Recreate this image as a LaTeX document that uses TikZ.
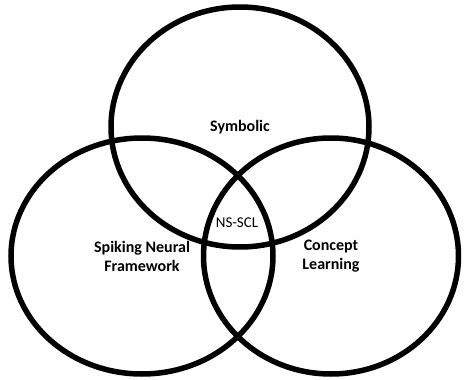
\documentclass[tikz,border=0pt]{standalone}
\usepackage{fontspec}
\setmainfont{Carlito}
\usepackage{tikz}
\usetikzlibrary{shapes.geometric}
\tikzstyle{set} = [ ellipse, draw = black, line width = 5.5pt, inner sep = 0pt, %
                    align = center, font = \fontsize{16}{19}\selectfont\bfseries ]
\tikzstyle{core} = [ font = \fontsize{15}{16}\selectfont ]

\begin{document}
\begin{tikzpicture}[x=1pt,y=1pt]
      \useasboundingbox (0,0) rectangle (464,-380);
      % Sets
      \node (symbolic) [set,minimum width=258pt,minimum height=240pt] %
        at (240,-127) {Symbolic};
      \node (spiking) [set,minimum width=262pt,minimum height=236pt] %
        at (142,-256) {Spiking Neural\\Framework};
      \node (concept) [set,minimum width=255pt,minimum height=236pt] %
        at (331,-256) {Concept\\Learning};
      % Overlap
      \node (nsscl) [core] at (237,-223) {NS-SCL};
    \end{tikzpicture}
\end{document}
